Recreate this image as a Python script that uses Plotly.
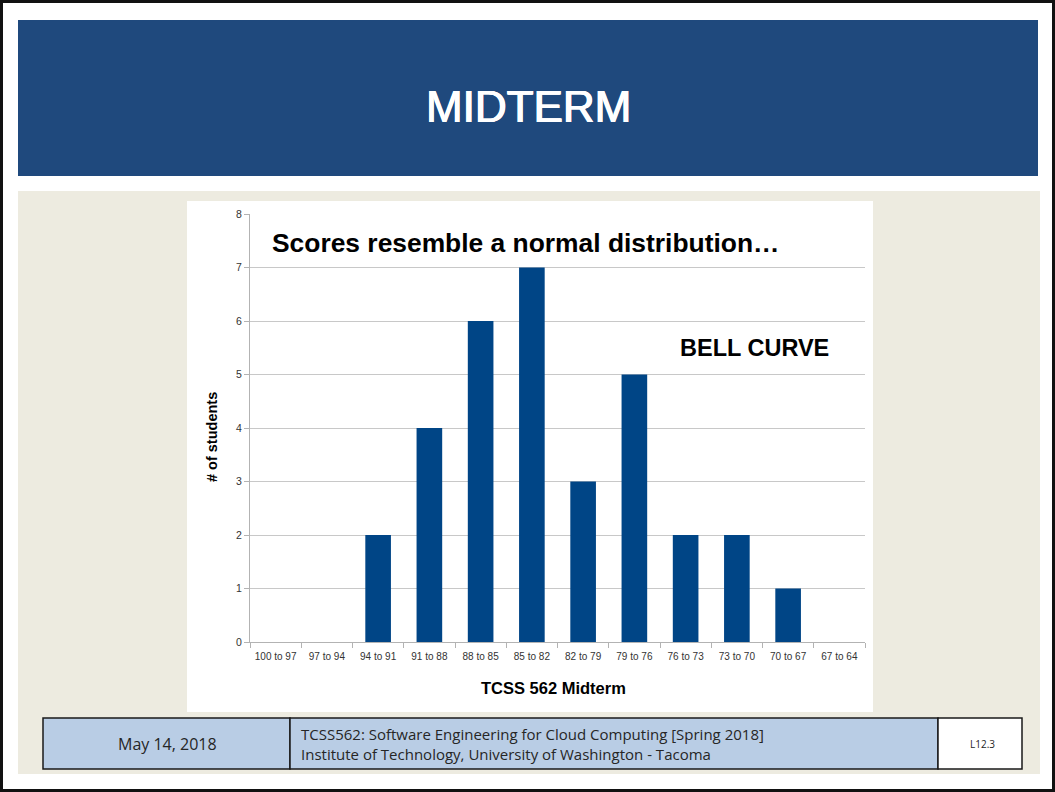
import plotly.graph_objects as go

# ---- data ----
categories = ["100 to 97", "97 to 94", "94 to 91", "91 to 88", "88 to 85", "85 to 82",
              "82 to 79", "79 to 76", "76 to 73", "73 to 70", "70 to 67", "67 to 64"]
students = [0, 0, 2, 4, 6, 7, 3, 5, 2, 2, 1, 0]
y_ticks = [0, 1, 2, 3, 4, 5, 6, 7, 8]

W, H = 1055, 792

def px(x):
    return x / W

def py(y):
    return 1 - y / H

fig = go.Figure()
fig.add_trace(go.Bar(
    x=categories, y=students,
    marker=dict(color="#004586", line=dict(width=0)),
    width=0.5,
    hoverinfo="x+y",
))

shapes = []
# outer page border
shapes.append(dict(type="rect", xref="paper", yref="paper", x0=px(1.5), x1=px(1053.5), y0=py(790.5), y1=py(1.5),
                   line=dict(color="#111111", width=3), fillcolor="white", layer="below"))
# header band
shapes.append(dict(type="rect", xref="paper", yref="paper", x0=px(18), x1=px(1038), y0=py(176), y1=py(20),
                   line=dict(width=0), fillcolor="#1F497D", layer="below"))
# beige content background
shapes.append(dict(type="rect", xref="paper", yref="paper", x0=px(18), x1=px(1040), y0=py(774), y1=py(191),
                   line=dict(width=0), fillcolor="#EDEBE0", layer="below"))
# white chart background
shapes.append(dict(type="rect", xref="paper", yref="paper", x0=px(187), x1=px(873), y0=py(712), y1=py(201),
                   line=dict(width=0), fillcolor="#FFFFFF", layer="below"))
# footer cells
shapes.append(dict(type="rect", xref="paper", yref="paper", x0=px(43), x1=px(290), y0=py(769), y1=py(718),
                   line=dict(color="#1a1a1a", width=1.5), fillcolor="#B9CDE5", layer="below"))
shapes.append(dict(type="rect", xref="paper", yref="paper", x0=px(290), x1=px(938), y0=py(769), y1=py(718),
                   line=dict(color="#1a1a1a", width=1.5), fillcolor="#B9CDE5", layer="below"))
shapes.append(dict(type="rect", xref="paper", yref="paper", x0=px(938), x1=px(1022), y0=py(769), y1=py(718),
                   line=dict(color="#1a1a1a", width=1.5), fillcolor="#FFFFFF", layer="below"))

annotations = [
    dict(text="MIDTERM", x=px(528), y=py(106), xref="paper", yref="paper", showarrow=False,
         xanchor="center", yanchor="middle",
         font=dict(family="Liberation Sans, Arial", size=44, color="white",
                   shadow="0.6px 0 0 #ffffff, -0.6px 0 0 #ffffff, 0 0.3px 0 #ffffff")),
    dict(text="<b>Scores resemble a normal distribution…</b>", x=px(270), y=py(243), xref="paper", yref="paper",
         showarrow=False, xanchor="left", yanchor="middle",
         font=dict(family="Liberation Sans, Arial", size=26.4, color="black")),
    dict(text="<b>BELL CURVE</b>", x=px(678), y=py(348), xref="paper", yref="paper",
         showarrow=False, xanchor="left", yanchor="middle",
         font=dict(family="Liberation Sans, Arial", size=23.5, color="black")),
    dict(text="<b>TCSS 562 Midterm</b>", x=px(553), y=py(688), xref="paper", yref="paper",
         showarrow=False, xanchor="center", yanchor="middle",
         font=dict(family="Liberation Sans, Arial", size=16.5, color="black")),
    dict(text="<b># of students</b>", x=px(212), y=py(437), xref="paper", yref="paper", textangle=-90,
         showarrow=False, xanchor="center", yanchor="middle",
         font=dict(family="Liberation Sans, Arial", size=14.5, color="black")),
    dict(text="May 14, 2018", x=px(167), y=py(744), xref="paper", yref="paper",
         showarrow=False, xanchor="center", yanchor="middle",
         font=dict(family="Open Sans", size=16, color="#262626")),
    dict(text="TCSS562: Software Engineering for Cloud Computing [Spring 2018]<br>Institute of Technology, University of Washington - Tacoma",
         x=px(299), y=py(744), xref="paper", yref="paper", align="left",
         showarrow=False, xanchor="left", yanchor="middle",
         font=dict(family="Open Sans", size=15, color="#262626")),
    dict(text="L12.3", x=px(982), y=py(744), xref="paper", yref="paper",
         showarrow=False, xanchor="center", yanchor="middle",
         font=dict(family="Open Sans", size=10, color="#262626")),
]

fig.update_layout(
    template="none",
    width=W, height=H,
    margin=dict(l=0, r=0, t=0, b=0, pad=0, autoexpand=False),
    paper_bgcolor="white",
    plot_bgcolor="rgba(0,0,0,0)",
    showlegend=False,
    bargap=0.5,
    shapes=shapes,
    annotations=annotations,
    xaxis=dict(
        domain=[px(250), px(865)],
        range=[-0.5, 11.5],
        automargin=False,
        showline=True, linecolor="#b3b3b3", linewidth=1,
        ticks="outside", tickson="boundaries", ticklen=5, tickcolor="#b3b3b3",
        ticklabelstandoff=5,
        tickfont=dict(family="Liberation Sans, Arial", size=10, color="#333333"),
        showgrid=False, zeroline=False,
        fixedrange=True,
    ),
    yaxis=dict(
        domain=[py(642), py(214)],
        range=[0, 8],
        automargin=False,
        tickvals=y_ticks,
        showline=True, linecolor="#b3b3b3", linewidth=1,
        ticks="outside", ticklen=5, tickcolor="#b3b3b3",
        tickfont=dict(family="Liberation Sans, Arial", size=10.5, color="#333333"),
        showgrid=True, gridcolor="#c8c8c8", gridwidth=1,
        zeroline=False,
        fixedrange=True,
    ),
)

fig.write_html("out.html", config={"displayModeBar": False},
               post_script="document.body.style.margin='0';document.body.style.overflow='hidden';")
